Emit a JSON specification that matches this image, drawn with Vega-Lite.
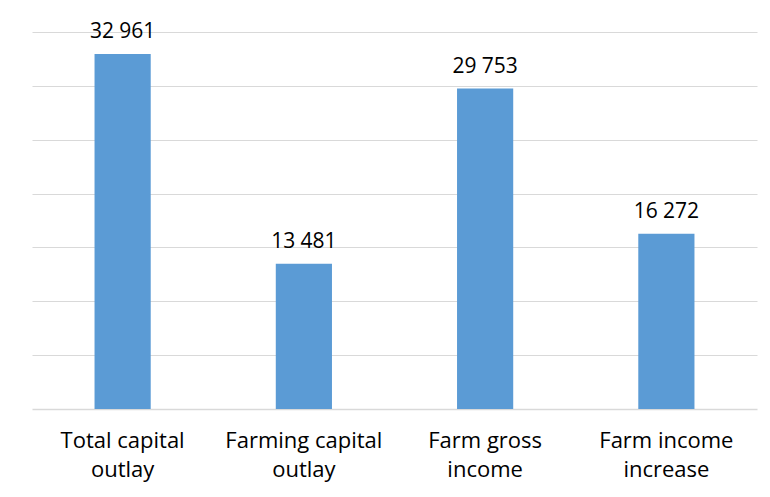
{
  "$schema": "https://vega.github.io/schema/vega-lite/v6.json",
  "width": 725,
  "height": 377,
  "autosize": {"type": "none"},
  "padding": {"left": 32, "top": 32, "right": 13, "bottom": 88},
  "background": "white",
  "config": {
    "locale": {"number": {"decimal": ",", "thousands": " ", "grouping": [3], "currency": ["", ""]}},
    "view": {"stroke": null},
    "font": "Open Sans"
  },
  "data": {
    "values": [
      {"category": "Total capital outlay", "value": 32961},
      {"category": "Farming capital outlay", "value": 13481},
      {"category": "Farm gross income", "value": 29753},
      {"category": "Farm income increase", "value": 16272}
    ]
  },
  "encoding": {
    "x": {
      "field": "category",
      "type": "nominal",
      "sort": null,
      "scale": {"paddingInner": 0.69, "paddingOuter": 0.345},
      "axis": {
        "title": null,
        "labelAngle": 0,
        "labelFontSize": 22,
        "labelColor": "#000000",
        "labelPadding": 21,
        "labelLineHeight": 29,
        "labelExpr": "[slice(datum.label, 0, lastindexof(datum.label, ' ')), slice(datum.label, lastindexof(datum.label, ' ') + 1)]",
        "ticks": false,
        "domainColor": "#d9d9d9",
        "domainWidth": 1.5
      }
    },
    "y": {
      "field": "value",
      "type": "quantitative",
      "scale": {"domain": [0, 35000]},
      "axis": {
        "title": null,
        "labels": false,
        "ticks": false,
        "domain": false,
        "values": [5000, 10000, 15000, 20000, 25000, 30000, 35000],
        "gridColor": "#d9d9d9",
        "gridWidth": 1
      }
    }
  },
  "layer": [
    {"mark": {"type": "bar", "color": "#5b9bd5"}},
    {
      "mark": {"type": "text", "baseline": "alphabetic", "dy": -16, "fontSize": 21, "color": "#000000"},
      "encoding": {"text": {"field": "value", "type": "quantitative", "format": ",d"}}
    }
  ]
}
